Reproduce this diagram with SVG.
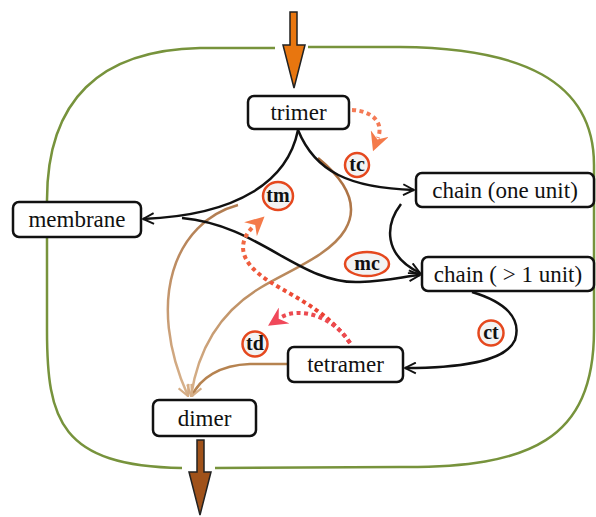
<svg xmlns="http://www.w3.org/2000/svg" width="596" height="517" viewBox="0 0 596 517">
<style>
.node rect{fill:#fff;stroke:#111;stroke-width:2.5}
.node text{font-family:"Liberation Serif","Times New Roman","DejaVu Serif",serif;font-size:23px;fill:#111;text-anchor:middle}
.lbl ellipse{fill:#f3f3f3;stroke:#E5481E;stroke-width:2.5}
.lbl text{font-family:"Liberation Serif","Times New Roman","DejaVu Serif",serif;font-weight:bold;font-size:20px;fill:#111;text-anchor:middle}
.blk{fill:none;stroke:#111;stroke-width:2.5;marker-end:url(#ab)}
.dot{fill:none;stroke-width:4;stroke-dasharray:4 3.5}
.brn{fill:none;stroke-width:2.5}
</style>
<defs>
<marker id="ab" viewBox="0 0 12 12" refX="11" refY="6" markerWidth="13" markerHeight="13" markerUnits="userSpaceOnUse" orient="auto"><path d="M1,1 L11,6 L1,11" fill="none" stroke="#111" stroke-width="1.8"/></marker>
<marker id="ao" viewBox="0 0 12 12" refX="3" refY="6" markerWidth="19" markerHeight="19" markerUnits="userSpaceOnUse" orient="auto"><path d="M0,0 L12,6 L0,12 L4,6 Z" fill="#F47A4A"/></marker>
<marker id="ar" viewBox="0 0 12 12" refX="3" refY="6" markerWidth="19" markerHeight="19" markerUnits="userSpaceOnUse" orient="auto"><path d="M0,0 L12,6 L0,12 L4,6 Z" fill="#F0485A"/></marker>
<marker id="at" viewBox="0 0 12 12" refX="11" refY="6" markerWidth="13" markerHeight="13" markerUnits="userSpaceOnUse" orient="auto"><path d="M1,1 L11,6 L1,11" fill="none" stroke="#D6AE86" stroke-width="2"/></marker>
<linearGradient id="gb" gradientUnits="userSpaceOnUse" x1="0" y1="160" x2="0" y2="400"><stop offset="0" stop-color="#A86B3C"/><stop offset="0.45" stop-color="#B8875A"/><stop offset="1" stop-color="#D9B48E"/></linearGradient>
<linearGradient id="ga" gradientUnits="userSpaceOnUse" x1="0" y1="200" x2="0" y2="400"><stop offset="0" stop-color="#B07A4E"/><stop offset="1" stop-color="#D9B48E"/></linearGradient>
<linearGradient id="gd" gradientUnits="userSpaceOnUse" x1="0" y1="210" x2="0" y2="345"><stop offset="0" stop-color="#F47A4A"/><stop offset="1" stop-color="#E8302A"/></linearGradient>
</defs>

<g id="boundary" fill="none" stroke="#77933C" stroke-width="2.5">
<path d="M308,47 L400,47 C520,48 594,80 594,165 L594,330 C594,440 530,468 400,467 L215,468"/>
<path d="M182,468 C60,466 47,420 47,330 L47,200 C47,100 100,50 200,48 L275,48"/>
</g>

<g id="io">
<path d="M290,12 L297,12 L297,45 L305,45 L294,88 L283,45 L290,45 Z" fill="#E8760F" stroke="#222" stroke-width="1.5"/>
<path d="M197,440 L204,440 L204,472 L211,472 L200,515 L189,472 L197,472 Z" fill="#A0521A" stroke="#222" stroke-width="1.5"/>
</g>

<g id="connectors">
<path class="brn" stroke="url(#ga)" d="M238,205 C175,222 145,300 188,396" marker-end="url(#at)"/>
<path class="brn" stroke="url(#gb)" d="M318,158 C345,180 360,205 345,230 C330,255 290,270 260,288 C220,312 198,350 191,396" marker-end="url(#at)"/>
<path class="brn" stroke="#B68350" d="M288,364 L250,364 C220,365 200,378 192,396" marker-end="url(#at)"/>
<path class="blk" d="M298,130 C288,180 240,215 143,219"/>
<path class="blk" d="M298,130 C315,172 350,188 414,190"/>
<path class="blk" d="M182,218 C260,225 300,285 360,282 C390,281 405,276 420,275"/>
<path class="blk" d="M401,204 C385,225 383,255 420,273"/>
<path class="blk" d="M472,292 C505,302 522,318 515,340 C505,362 460,368 405,368"/>
<path class="dot" stroke="#F47A55" d="M352,110 C372,111 384,122 378,138" marker-end="url(#ao)"/>
<path class="dot" stroke="url(#gd)" d="M350,343 C320,300 270,290 250,265 C238,250 243,236 254,226" marker-end="url(#ao)"/>
<path class="dot" stroke="#EC4A50" d="M350,343 C335,318 300,305 280,318" marker-end="url(#ar)"/>
</g>

<g id="trimer" class="node"><rect x="248" y="96" width="101" height="33" rx="6"/><text x="298.5" y="120" font-family="Liberation Serif, serif">trimer</text></g>
<g id="membrane" class="node"><rect x="13" y="202" width="128" height="35" rx="6"/><text x="77" y="227" font-family="Liberation Serif, serif">membrane</text></g>
<g id="chain1" class="node"><rect x="416" y="173" width="178" height="34" rx="6"/><text x="505" y="198" font-family="Liberation Serif, serif">chain (one unit)</text></g>
<g id="chain2" class="node"><rect x="422" y="257" width="172" height="34" rx="6"/><text x="508" y="282" font-family="Liberation Serif, serif">chain ( &gt; 1 unit)</text></g>
<g id="tetramer" class="node"><rect x="288" y="347" width="115" height="35" rx="6"/><text x="345.5" y="372" font-family="Liberation Serif, serif">tetramer</text></g>
<g id="dimer" class="node"><rect x="153" y="400" width="103" height="36" rx="6"/><text x="204.5" y="426" font-family="Liberation Serif, serif">dimer</text></g>

<g id="lbl-tc" class="lbl"><ellipse cx="357" cy="165" rx="12" ry="12"/><text x="357" y="171">tc</text></g>
<g id="lbl-tm" class="lbl"><ellipse cx="278" cy="196" rx="15" ry="14"/><text x="278" y="202">tm</text></g>
<g id="lbl-mc" class="lbl"><ellipse cx="367" cy="264" rx="22" ry="12"/><text x="367" y="270">mc</text></g>
<g id="lbl-td" class="lbl"><ellipse cx="255" cy="344" rx="12.5" ry="12.5"/><text x="255" y="350">td</text></g>
<g id="lbl-ct" class="lbl"><ellipse cx="491" cy="333" rx="12.5" ry="12.5"/><text x="491" y="339">ct</text></g>
</svg>
